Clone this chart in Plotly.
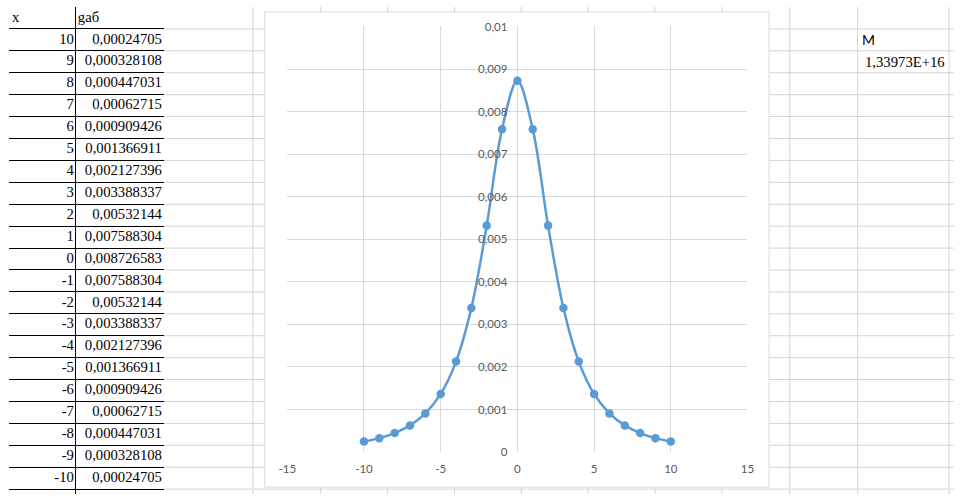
import plotly.graph_objects as go

# ---------------- data ----------------
x_values = [10, 9, 8, 7, 6, 5, 4, 3, 2, 1, 0, -1, -2, -3, -4, -5, -6, -7, -8, -9, -10]
gab_values = [0.00024705, 0.000328108, 0.000447031, 0.00062715, 0.000909426,
              0.001366911, 0.002127396, 0.003388337, 0.00532144, 0.007588304,
              0.008726583, 0.007588304, 0.00532144, 0.003388337, 0.002127396,
              0.001366911, 0.000909426, 0.00062715, 0.000447031, 0.000328108,
              0.00024705]
header_labels = ["x", "gaб"]
x_tick_vals = [-15, -10, -5, 0, 5, 10, 15]
x_tick_text = ["-15", "-10", "-5", "0", "5", "10", "15"]
y_tick_vals = [0, 0.001, 0.002, 0.003, 0.004, 0.005, 0.006, 0.007, 0.008, 0.009, 0.01]
y_tick_text = ["0", "0,001", "0,002", "0,003", "0,004", "0,005", "0,006", "0,007",
               "0,008", "0,009", "0,01"]
m_label = "M"
m_value_text = "1,33973E+16"

# ---------------- layout constants (pixels) ----------------
W, H = 961, 500
ROW_H = 22.5
SHEET_COL_LINES = [248, 317, 385, 453, 521, 589, 657, 725, 794, 863, 956]
TABLE_COL_LINES = [68, 157]
TABLE_RIGHT = 158
CHART_BOX = (260, 5, 773, 493)
PLOT_AREA = (283, 20, 751, 457)
SHEET_GRID = "#D4D4D4"
CHART_GRID = "#D9D9D9"
AXIS_TXT = "#595959"
SERIES = "#5B9BD5"


def px(x):
    return x / W


def py(y):
    return 1 - y / H


cell_x_text = [str(v) for v in x_values]
cell_gab_text = [str(v).replace(".", ",") for v in gab_values]
row_idx = list(range(1, len(x_values) + 1))

fig = go.Figure()

# chart series
fig.add_trace(go.Scatter(
    x=x_values, y=gab_values, mode="lines+markers",
    line=dict(color=SERIES, width=2.5, shape="spline"),
    marker=dict(color=SERIES, size=8.5),
    xaxis="x", yaxis="y", showlegend=False, hoverinfo="skip",
))

# table texts
cell_font = dict(family="Liberation Serif", size=14.7, color="black")
fig.add_trace(go.Scatter(
    x=[66] * len(cell_x_text), y=row_idx, text=cell_x_text, mode="text",
    textposition="middle left", textfont=cell_font,
    xaxis="x2", yaxis="y2", showlegend=False, hoverinfo="skip"))
fig.add_trace(go.Scatter(
    x=[155.5] * len(cell_gab_text), y=row_idx, text=cell_gab_text, mode="text",
    textposition="middle left", textfont=cell_font,
    xaxis="x2", yaxis="y2", showlegend=False, hoverinfo="skip"))
fig.add_trace(go.Scatter(
    x=[3, 70], y=[0, 0], text=header_labels, mode="text",
    textposition="middle right", textfont=cell_font,
    xaxis="x2", yaxis="y2", showlegend=False, hoverinfo="skip"))

# background shapes: spreadsheet grid then chart box
shapes = []
n_rows = int(H // ROW_H) + 1
for k in range(1, n_rows):
    yy = ROW_H * k
    shapes.append(dict(type="line", xref="paper", yref="paper",
                       x0=px(TABLE_COL_LINES[-1]), x1=1, y0=py(yy), y1=py(yy),
                       line=dict(color=SHEET_GRID, width=1), layer="below"))
for c in SHEET_COL_LINES:
    shapes.append(dict(type="line", xref="paper", yref="paper",
                       x0=px(c), x1=px(c), y0=0, y1=1,
                       line=dict(color=SHEET_GRID, width=1), layer="below"))
shapes.append(dict(type="rect", xref="paper", yref="paper",
                   x0=px(CHART_BOX[0]), x1=px(CHART_BOX[2]),
                   y0=py(CHART_BOX[3]), y1=py(CHART_BOX[1]),
                   fillcolor="white", line=dict(color=CHART_GRID, width=1),
                   layer="below"))

tick_font = dict(family="Lato", size=11.5, color=AXIS_TXT)

fig.update_layout(
    autosize=True,
    margin=dict(l=0, r=0, t=0, b=0),
    paper_bgcolor="white", plot_bgcolor="white",
    shapes=shapes,
    xaxis=dict(domain=[px(PLOT_AREA[0]), px(PLOT_AREA[2])], range=[-15, 15],
               anchor="y", tickmode="array", tickvals=x_tick_vals, ticktext=x_tick_text,
               showgrid=True, gridcolor=CHART_GRID, gridwidth=1, zeroline=False,
               showline=False, ticks="", tickfont=tick_font, ticklabelstandoff=8,
               fixedrange=True),
    yaxis=dict(domain=[py(PLOT_AREA[3]), py(PLOT_AREA[1])], range=[0, 0.01],
               anchor="free", position=px((PLOT_AREA[0] + PLOT_AREA[2]) / 2),
               tickmode="array", tickvals=y_tick_vals, ticktext=y_tick_text,
               showgrid=True, gridcolor=CHART_GRID, gridwidth=1, zeroline=False,
               showline=False, ticks="", tickfont=tick_font, ticklabelstandoff=10,
               fixedrange=True),
    xaxis2=dict(domain=[0, px(TABLE_RIGHT)], range=[0, TABLE_RIGHT], anchor="y2",
                tickmode="array", tickvals=TABLE_COL_LINES, showticklabels=False,
                showgrid=True, gridcolor="black", gridwidth=1, zeroline=False,
                showline=False, ticks="", fixedrange=True),
    yaxis2=dict(domain=[0, 1], range=[H / ROW_H - 0.5, -0.5], anchor="x2",
                tickmode="array", tickvals=[r + 0.5 for r in range(0, len(x_values) + 1)],
                showticklabels=False, showgrid=True, gridcolor="black", gridwidth=1,
                zeroline=False, showline=False, ticks="", fixedrange=True),
    annotations=[
        dict(text=m_label, xref="paper", yref="paper", x=px(865), y=py(33.5),
             xanchor="left", yanchor="middle", showarrow=False,
             font=dict(family="Lato", size=14, color="black")),
        dict(text=m_value_text, xref="paper", yref="paper", x=px(954), y=py(56.5),
             xanchor="right", yanchor="middle", showarrow=False,
             font=dict(family="Liberation Serif", size=14.7, color="black")),
    ],
)

fig.write_html("out.html", config={"displayModeBar": False},
               default_width="%dpx; position:absolute; left:0; top:0" % W,
               default_height="%dpx" % H)
